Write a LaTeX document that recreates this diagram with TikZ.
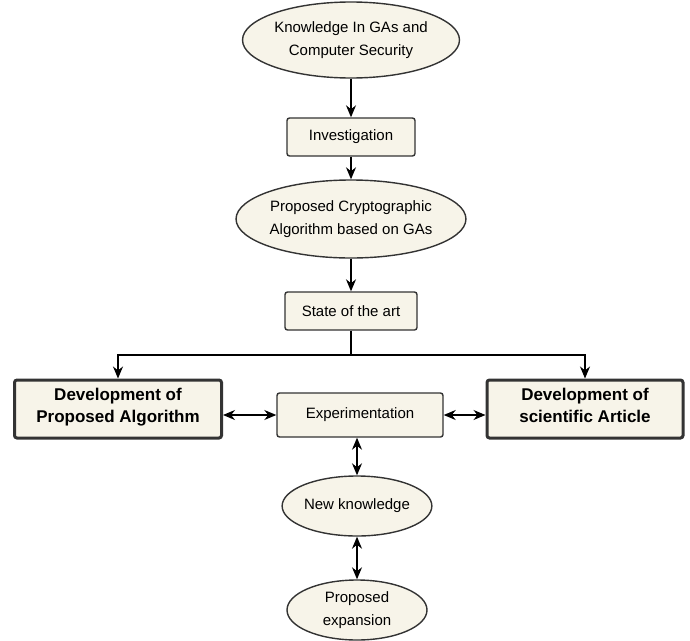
\documentclass[tikz,border=0pt]{standalone}
\usepackage{fontspec}
\setmainfont{Liberation Sans}
\usetikzlibrary{shapes.geometric,arrows.meta}

\definecolor{boxfill}{HTML}{F7F4E9}
\definecolor{boxline}{HTML}{333333}

\tikzset{
	oval/.style={ellipse, draw=boxline, line width=1.4pt, fill=boxfill, align=center, inner sep=0pt, font=\fontsize{15}{23}\selectfont},
	stage/.style={rectangle, rounded corners=2.5pt, draw=boxline, line width=1.4pt, fill=boxfill, align=center, inner sep=0pt, font=\fontsize{15}{23}\selectfont},
	mainstage/.style={stage, line width=3pt, font=\fontsize{17}{22}\selectfont\bfseries},
	link/.style={line width=1.2pt, -{Stealth[length=12pt,width=10pt]}},
	twoway/.style={line width=1.2pt, {Stealth[length=12pt,width=10pt]}-{Stealth[length=12pt,width=10pt]}}
}

\begin{document}
\begin{tikzpicture}[x=1pt, y=-1pt]

	\useasboundingbox (0,0) rectangle (690,640);

	% top of the flow
	\node[oval, minimum width=190, minimum height=76] (know) at (351,40) {Knowledge In GAs and\\Computer Security};
	\node[stage, minimum width=128, minimum height=38] (invest) at (351,137) {Investigation};
	\node[oval, minimum width=214, minimum height=78] (propalg) at (351,219) {Proposed Cryptographic\\Algorithm based on GAs};
	\node[stage, minimum width=132, minimum height=38] (state) at (351,311) {State of the art};

	% the three stages
	\node[mainstage, minimum width=207, minimum height=58] (devalg) at (118,409) {Development of\\Proposed Algorithm\strut};
	\node[stage, minimum width=166, minimum height=44] (exper) at (360,415) {Experimentation};
	\node[mainstage, minimum width=196, minimum height=58] (devart) at (585,409) {Development of\\scientific Article\strut};

	% bottom of the flow
	\node[oval, minimum width=138, minimum height=60] (newknow) at (357,506) {New knowledge};
	\node[oval, minimum width=140, minimum height=60] (expan) at (357,610) {Proposed\\expansion};

	\coordinate (split) at (351,355);

	\draw[link] (know) -- (invest);
	\draw[link] (invest) -- (propalg);
	\draw[link] (propalg) -- (state);
	\draw[line width=1.2pt] (state) -- (split);
	\draw[link] (split) -| (devalg);
	\draw[link] (split) -| (devart);

	\draw[twoway] (devalg.east |- exper) -- (exper);
	\draw[twoway] (exper) -- (devart.west |- exper);
	\draw[twoway] (exper.south -| newknow) -- (newknow);
	\draw[twoway] (newknow) -- (expan);

\end{tikzpicture}
\end{document}
